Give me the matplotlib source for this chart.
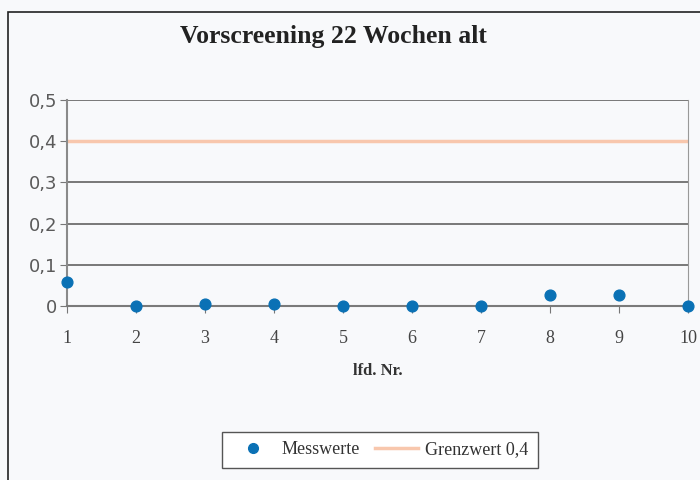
import matplotlib
matplotlib.use("Agg")
import matplotlib.pyplot as plt
from matplotlib.patches import Rectangle
from matplotlib.lines import Line2D

# data
nr = [1, 2, 3, 4, 5, 6, 7, 8, 9, 10]
messwerte = [0.058, 0.0, 0.005, 0.005, 0.0, 0.0, 0.0, 0.027, 0.027, 0.0]
grenzwert = 0.4
y_ticks = [0, 0.1, 0.2, 0.3, 0.4, 0.5]
y_labels = ["0", "0,1", "0,2", "0,3", "0,4", "0,5"]

bg = "#f8f9fb"
fig = plt.figure(figsize=(7, 4.8), dpi=100, facecolor=bg)
ax = fig.add_axes([67 / 700, 1 - 306 / 480, 621 / 700, 206 / 480])
ax.set_facecolor(bg)

# outer frame
fig.patches.append(Rectangle((8 / 700, -0.05), 1.0, 1 - 12 / 480 + 0.05,
                             transform=fig.transFigure, fill=False,
                             edgecolor="#222222", linewidth=1.2))

for y in y_ticks[1:]:
    ax.axhline(y, color="#555555", linewidth=1.1, zorder=1)
ax.axhline(grenzwert, color="#f8c7ad", linewidth=2.5, zorder=2)
ax.scatter(nr, messwerte, s=60, color="#0a71b5", zorder=4, clip_on=False)

ax.set_xlim(1, 10)
ax.set_ylim(0, 0.5)
ax.set_yticks(y_ticks)
ax.set_yticklabels(y_labels, fontfamily="DejaVu Sans", fontsize=13, color="#5a5a5a")
ax.set_xticks(nr)
ax.set_xticklabels([str(n) for n in nr], fontfamily="Liberation Serif",
                   fontsize=13, color="#444444")
ax.tick_params(axis="y", length=5, color="#777777", pad=2)
ax.tick_params(axis="x", length=5, color="#777777", pad=12)

ax.spines["top"].set_visible(False)
ax.spines["left"].set_color("#8a8a8a")
ax.spines["left"].set_linewidth(1.5)
ax.spines["right"].set_color("#999999")
ax.spines["bottom"].set_color("#7a7a7a")
ax.spines["bottom"].set_linewidth(1.5)

ax.set_xlabel("lfd. Nr.", fontfamily="Liberation Serif", fontweight="bold",
              fontsize=12, color="#333333", labelpad=12)

fig.text(333 / 700, 1 - 37 / 480, "Vorscreening 22 Wochen alt", ha="center",
         va="center", fontfamily="Liberation Serif", fontweight="bold",
         fontsize=18.5, color="#222222")

handles = [
    Line2D([], [], marker="o", linestyle="none", color="#0a71b5", markersize=7),
    Line2D([], [], color="#f8c7ad", linewidth=2.5),
]
leg = fig.legend(handles, ["Messwerte", "Grenzwert 0,4"], loc="center",
                 bbox_to_anchor=(380 / 700, 1 - 450 / 480), ncol=2,
                 frameon=True, fancybox=False, edgecolor="#555555",
                 facecolor="white", framealpha=1,
                 prop={"family": "Liberation Serif", "size": 13},
                 handlelength=2.4, columnspacing=0.8, handletextpad=0.4,
                 borderpad=0.5)
for t in leg.get_texts():
    t.set_color("#333333")

fig.savefig("out.png", dpi=100, facecolor=bg)
